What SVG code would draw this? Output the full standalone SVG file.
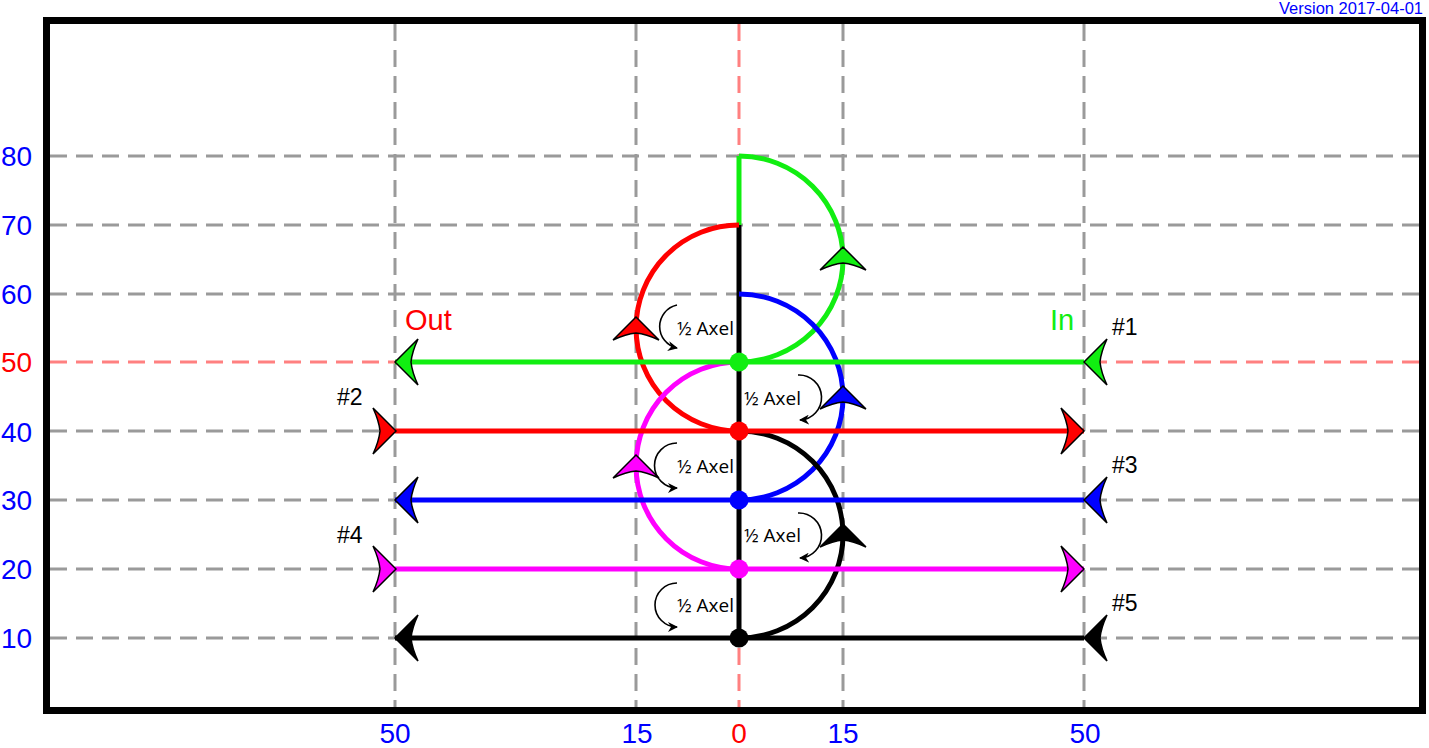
<svg xmlns="http://www.w3.org/2000/svg" width="1429" height="748" viewBox="0 0 1429 748">
<style>
.grid{stroke:#9a9a9a;stroke-width:3;stroke-dasharray:17 9;fill:none}
.gridr{stroke:#ff8080;stroke-width:3;stroke-dasharray:17 9;fill:none}
.trk{stroke-width:5;fill:none}
.ax{font-family:"Liberation Sans",Arial,sans-serif;font-size:28px}
.lbl{font-family:"Liberation Sans",Arial,sans-serif;font-size:23px;fill:#000}
.big{font-family:"Liberation Sans",Arial,sans-serif;font-size:29px}
.jump{font-family:"Open Sans","Noto Sans",sans-serif;font-size:19px;fill:#000}
.rot{stroke:#000;stroke-width:1.6;fill:none;marker-end:url(#sm)}
.ah{stroke:#000;stroke-width:1.5;stroke-linejoin:miter}
</style>
<defs>
<path id="ar" d="M0,0 L-23,-23 Q-17,-10 -16,0 Q-17,10 -23,23 Z"/>
<marker id="sm" viewBox="0 0 10 10" refX="9" refY="5" markerWidth="10" markerHeight="10" markerUnits="userSpaceOnUse" orient="auto">
<path d="M0,0 L10,5 L0,10 L3,5 Z" fill="#000"/>
</marker>
</defs>
<rect width="1429" height="748" fill="#fff"/>
<text x="1423" y="14" text-anchor="end" font-family="Liberation Sans,Arial,sans-serif" font-size="16.5" fill="#0000ff">Version 2017-04-01</text>
<g id="grid">
<line class="grid" x1="395" y1="24" x2="395" y2="707"/>
<line class="grid" x1="636" y1="24" x2="636" y2="707"/>
<line class="gridr" x1="739" y1="24" x2="739" y2="707"/>
<line class="grid" x1="843" y1="24" x2="843" y2="707"/>
<line class="grid" x1="1084" y1="24" x2="1084" y2="707"/>
<line class="grid" x1="50" y1="156" x2="1419" y2="156"/>
<line class="grid" x1="50" y1="225" x2="1419" y2="225"/>
<line class="grid" x1="50" y1="294" x2="1419" y2="294"/>
<line class="gridr" x1="50" y1="362" x2="1419" y2="362"/>
<line class="grid" x1="50" y1="431" x2="1419" y2="431"/>
<line class="grid" x1="50" y1="500" x2="1419" y2="500"/>
<line class="grid" x1="50" y1="569" x2="1419" y2="569"/>
<line class="grid" x1="50" y1="638" x2="1419" y2="638"/>
</g>
<rect id="frame" x="46.5" y="20.5" width="1376" height="690" fill="none" stroke="#000" stroke-width="7"/>
<g id="axis-labels" class="ax">
<text x="1" y="166" fill="#0000ff">80</text>
<text x="1" y="235" fill="#0000ff">70</text>
<text x="1" y="304" fill="#0000ff">60</text>
<text x="1" y="372" fill="#ff0000">50</text>
<text x="1" y="442" fill="#0000ff">40</text>
<text x="1" y="510" fill="#0000ff">30</text>
<text x="1" y="579" fill="#0000ff">20</text>
<text x="1" y="648" fill="#0000ff">10</text>
<text x="395" y="743" text-anchor="middle" fill="#0000ff">50</text>
<text x="637" y="743" text-anchor="middle" fill="#0000ff">15</text>
<text x="739" y="743" text-anchor="middle" fill="#ff0000">0</text>
<text x="843" y="743" text-anchor="middle" fill="#0000ff">15</text>
<text x="1085" y="743" text-anchor="middle" fill="#0000ff">50</text>
</g>
<g id="connectors">
<line class="trk" stroke="#000" x1="739" y1="225" x2="739" y2="638"/>
<line class="trk" stroke="#11ee11" x1="739" y1="156" x2="739" y2="225"/>
<path class="trk" stroke="#11ee11" d="M739,156 A104,103 0 0 1 739,362"/>
<path class="trk" stroke="#ff0000" d="M739,225 A103,103 0 0 0 739,431"/>
<path class="trk" stroke="#0000ff" d="M739,294 A104,103 0 0 1 739,500"/>
<path class="trk" stroke="#ff00ff" d="M739,362 A103,103.5 0 0 0 739,569"/>
<path class="trk" stroke="#000" d="M739,431 A104,103.5 0 0 1 739,638"/>
<line class="trk" stroke="#11ee11" x1="395" y1="362" x2="1084" y2="362"/>
<line class="trk" stroke="#ff0000" x1="395" y1="431" x2="1084" y2="431"/>
<line class="trk" stroke="#0000ff" x1="395" y1="500" x2="1084" y2="500"/>
<line class="trk" stroke="#ff00ff" x1="395" y1="569" x2="1084" y2="569"/>
<line class="trk" stroke="#000" x1="395" y1="638" x2="1084" y2="638"/>
</g>
<g id="arrowheads">
<use href="#ar" class="ah" fill="#11ee11" transform="translate(395,362) rotate(180)"/>
<use href="#ar" class="ah" fill="#11ee11" transform="translate(1084,362) rotate(180)"/>
<use href="#ar" class="ah" fill="#11ee11" transform="translate(843,247) rotate(-90)"/>
<use href="#ar" class="ah" fill="#ff0000" transform="translate(396,431)"/>
<use href="#ar" class="ah" fill="#ff0000" transform="translate(1084,431)"/>
<use href="#ar" class="ah" fill="#ff0000" transform="translate(636,317) rotate(-90)"/>
<use href="#ar" class="ah" fill="#0000ff" transform="translate(395,500) rotate(180)"/>
<use href="#ar" class="ah" fill="#0000ff" transform="translate(1084,500) rotate(180)"/>
<use href="#ar" class="ah" fill="#0000ff" transform="translate(843,386) rotate(-90)"/>
<use href="#ar" class="ah" fill="#ff00ff" transform="translate(396,569)"/>
<use href="#ar" class="ah" fill="#ff00ff" transform="translate(1084,569)"/>
<use href="#ar" class="ah" fill="#ff00ff" transform="translate(636,455) rotate(-90)"/>
<use href="#ar" class="ah" fill="#000" transform="translate(395,638) rotate(180)"/>
<use href="#ar" class="ah" fill="#000" transform="translate(1084,638) rotate(180)"/>
<use href="#ar" class="ah" fill="#000" transform="translate(843,524) rotate(-90)"/>
</g>
<g id="node-green"><circle cx="739" cy="362" r="9.5" fill="#11ee11"/></g>
<g id="node-red"><circle cx="739" cy="431" r="9.5" fill="#ff0000"/></g>
<g id="node-blue"><circle cx="739" cy="500" r="9.5" fill="#0000ff"/></g>
<g id="node-magenta"><circle cx="739" cy="569" r="9.5" fill="#ff00ff"/></g>
<g id="node-black"><circle cx="739" cy="638" r="9.5" fill="#000"/></g>
<g id="labels">
<text class="big" x="405" y="330" fill="#ff0000">Out</text>
<text class="big" x="1050" y="330" fill="#11ee11">In</text>
<text class="lbl" x="1112" y="335">#1</text>
<text class="lbl" x="337" y="405">#2</text>
<text class="lbl" x="1112" y="473">#3</text>
<text class="lbl" x="337" y="543">#4</text>
<text class="lbl" x="1112" y="611">#5</text>
</g>
<g id="half-axels">
<text class="jump" x="677" y="335">½ Axel</text>
<path class="rot" d="M677,305 A22,22 0 0 0 677,348"/>
<text class="jump" x="744" y="405">½ Axel</text>
<path class="rot" d="M798,375 A22.5,22.5 0 0 1 800,420"/>
<text class="jump" x="677" y="473">½ Axel</text>
<path class="rot" d="M677,443 A22.5,22.5 0 0 0 677,488"/>
<text class="jump" x="744" y="542">½ Axel</text>
<path class="rot" d="M798,513 A22.5,22.5 0 0 1 800,558"/>
<text class="jump" x="677" y="612">½ Axel</text>
<path class="rot" d="M677,583 A22,22 0 0 0 677,627"/>
</g>
</svg>
